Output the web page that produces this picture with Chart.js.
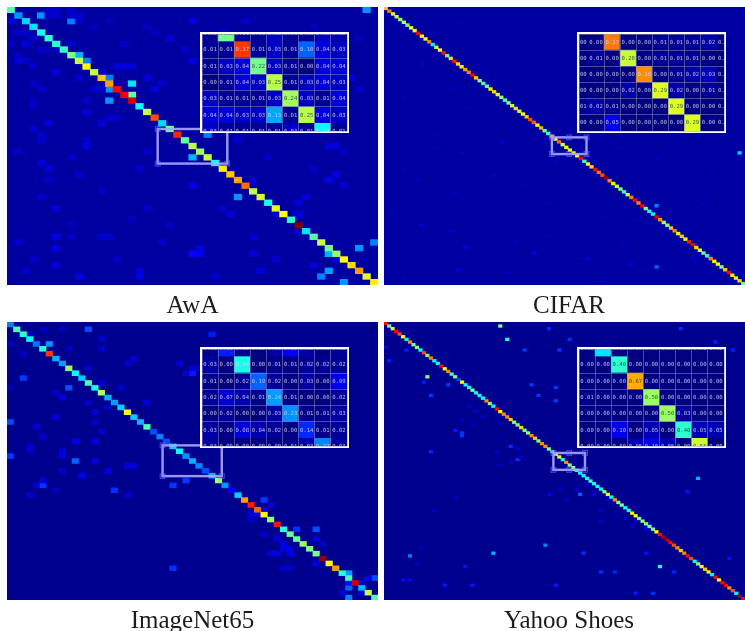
<!DOCTYPE html>
<html><head><meta charset="utf-8">
<script src="https://cdn.jsdelivr.net/npm/chart.js@4"></script>
<style>
html,body{margin:0;padding:0;background:#fff;width:745px;height:631px;overflow:hidden}
canvas{position:absolute;display:block}
canvas.main{filter:blur(.35px)}
canvas.inset{filter:blur(.35px)}
</style></head><body>
<script>
// Diagonal cells, read as position on the colour map (0..1)
const awaDiag=[.45,.27,.33,.35,.4,.42,.42,.43,.5,.57,.63,.57,.68,.72,.87,.89,.92,.38,.57,.8,.34,.48,.84,.47,.55,.53,.57,.38,.64,.68,.71,.77,.56,.58,.4,.6,.62,.42,1,.35,.46,.57,.49,.52,.63,.66,.72,.6,.64];
const cifarDiag=[.68,.75,.58,.56,.5,.56,.5,.62,.6,.87,.64,.6,.75,.36,.55,.63,.85,.46,.65,.85,.66,.64,.72,.76,.88,.68,.5,.44,.46,.64,.67,.6,.52,.44,.5,.57,.66,.58,.62,.68,.8,.78,.63,.7,.48,.42,.7,.62,.77,.58,.6,.62,.6,.6,.87,.42,.63,.67,.87,.76,.8,.97,.74,.63,.56,.5,.43,.58,.75,.87,.75,.88,.5,.4,.38,.9,.73,.53,.5,.68,.74,.6,.68,.64,.85,.88,.66,.6,.48,.43,.74,.63,.6,.52,.68,.87,.65,.58,.67,.5];
const imagenetDiag=[.25,.45,.42,.38,.24,.42,.82,.3,.28,.52,.38,.32,.45,.38,.54,.3,.28,.33,.62,.33,.3,.45,.2,.25,.2,.33,.38,.27,.3,.26,.2,.3,.53,.27,.12,.33,.72,.85,.78,.63,.52,.86,.42,.47,.47,.53,.5,.5,.98,.63,.72,.42,.44,.92,.3,.57,.45];
const yahooDiag=[.87,.5,.56,.87,.8,.63,.38,.74,.5,.5,.38,.8,.5,.74,.38,.38,.87,.63,.74,.43,.5,.2,.63,.38,.38,.5,.38,.38,.38,.74,.5,.38,.87,.63,.74,.74,.68,.5,.5,.66,.5,.5,.74,.68,.5,.74,.74,.5,.38,.63,.6,.38,.74,.5,.5,.38,.38,.38,.38,.43,.38,.38,.38,.5,.63,.38,.74,.5,.5,.38,.38,.63,.63,.5,.5,.5,.5,.5,.63,.87,.95,.95,.87,.8,.74,.68,.74,.87,.8,.38,.5,.63,.68,.63,.38,.87,.63,.87,.87,.74,.8,.38,.97,.87];

// Off-diagonal cells: [row, column, colour-map position]
const awaOff=[[1,4,.27],[2,8,.25],[8,9,.3],[9,10,.25],[12,13,.25],[14,13,.27],[13,16,.35],[15,16,.47],[16,13,.27],[0,47,.27],[22,26,.25],[26,24,.3],[33,30,.27],[43,42,.3],[42,46,.27],[41,48,.25],[46,42,.28],[47,41,.25],[48,44,.27],
[0,5,.075],[0,6,.075],[0,8,.075],[1,5,.07],[1,6,.07],[1,8,.075],[1,9,.075],[2,0,.09],[2,9,.075],[2,24,.09],[2,31,.075],[2,13,.06],[3,11,.06],[3,18,.06],[4,1,.075],[4,2,.075],[4,19,.06],[5,3,.075],[5,21,.09],[6,0,.06],[6,2,.09],[6,8,.075],[7,4,.075],[7,5,.06],[7,6,.06],[7,23,.075],[8,1,.06],[9,1,.09],[9,2,.07],[9,24,.09],[10,3,.075],[10,14,.09],[10,15,.09],[10,16,.09],[11,6,.09],[11,12,.075],[12,9,.075],[12,18,.09],[13,20,.075],[14,4,.075],[14,11,.075],[14,12,.075],[14,19,.09],[16,3,.06],[16,10,.075],[17,3,.075],[17,35,.075],[18,10,.09],[19,13,.075],[19,14,.075],[20,5,.09],[20,12,.09],[21,3,.075],[22,4,.075],[23,4,.075],[23,10,.075],[24,10,.09],[25,18,.075],[26,8,.075],[27,4,.09],[28,5,.09],[28,17,.075],[30,5,.075],[30,32,.075],[31,24,.1],[33,4,.075],[35,6,.09],[35,18,.075],[36,29,.09],[36,38,.09],[38,8,.06],[39,38,.075],[40,6,.1],[40,8,.075],[40,12,.075],[40,13,.075],[40,32,.075],[41,1,.075],[42,6,.1],[42,25,.09],[43,24,.13],[43,25,.11],[43,32,.09],[44,3,.075],[44,35,.075],[45,6,.09],[46,2,.075],[46,17,.09],[47,9,.1],[47,27,.075],[47,17,.1],[45,40,.09],[46,33,.09],[44,43,.09],[29,43,.1],[30,42,.1],[33,39,.09],[34,38,.09],[36,35,.075],[20,41,.075],[24,42,.09],[24,43,.09],[25,44,.075],[12,45,.09],[14,46,.075],[10,39,.06],[8,42,.075],[5,46,.06],[11,28,.06],[15,30,.06],[18,33,.07],[23,30,.07],[26,34,.07],[28,40,.07],[31,44,.08],[35,28,.07],[38,21,.07],[41,20,.07],[44,14,.07],[32,12,.07],[29,9,.07],[37,16,.06],[25,1,.07],[13,3,.07],[6,15,.07],[4,28,.07],[7,35,.07],[3,40,.06]];
const cifarOff=[[52,98,.32],[71,75,.25],[93,75,.22],[5,20,.05],[10,60,.05],[14,30,.05],[20,10,.06],[22,75,.05],[25,60,.06],[29,18,.07],[32,5,.05],[36,23,.06],[40,50,.05],[45,14,.06],[48,32,.08],[50,13,.06],[52,21,.07],[55,47,.06],[58,5,.06],[60,30,.07],[62,9,.06],[64,38,.06],[67,19,.07],[70,45,.06],[73,2,.07],[76,70,.06],[78,10,.09],[80,18,.08],[82,45,.06],[84,36,.07],[86,22,.1],[88,41,.09],[90,56,.09],[92,68,.07],[94,20,.1],[95,33,.07],[97,5,.06],[98,60,.07],[36,80,.05],[42,90,.05],[44,70,.06],[46,85,.05],[50,64,.06],[54,75,.06],[60,90,.05],[66,83,.05],[70,88,.06],[75,60,.06],[80,78,.07],[85,66,.06],[90,85,.07],[95,90,.06],[17,70,.05],[30,93,.05],[12,85,.05]];
const imagenetOff=[[4,6,.27],[1,12,.2],[13,9,.2],[20,0,.2],[11,2,.18],[27,0,.18],[28,10,.22],[33,5,.18],[34,16,.17],[33,25,.18],[32,27,.18],[36,39,.18],[50,25,.17],[10,28,.15],[2,31,.15],[42,47,.2],[42,44,.17],[51,52,.28],[52,56,.2],[54,52,.22],[56,52,.25],
[1,5,.06],[1,8,.06],[2,3,.075],[3,14,.075],[4,0,.06],[5,9,.07],[5,14,.07],[6,2,.06],[7,19,.09],[8,26,.075],[8,18,.07],[9,12,.09],[9,28,.09],[9,29,.075],[10,27,.075],[12,14,.075],[13,0,.06],[13,17,.07],[14,7,.075],[15,8,.1],[16,12,.07],[16,21,.09],[17,15,.07],[18,13,.09],[19,7,.09],[20,13,.075],[21,4,.09],[22,14,.075],[23,5,.09],[24,10,.1],[24,13,.1],[25,3,.075],[26,3,.075],[26,8,.09],[27,8,.09],[28,13,.1],[29,18,.09],[29,19,.09],[30,8,.075],[30,15,.09],[31,11,.1],[32,5,.09],[33,4,.09],[34,7,.06],[35,3,.075],[35,18,.075],[39,37,.09],[39,38,.1],[38,39,.1],[37,40,.09],[40,37,.075],[43,39,.075],[44,41,.09],[44,47,.09],[45,42,.09],[45,48,.075],[46,42,.1],[46,43,.1],[47,41,.1],[47,43,.1],[50,42,.075],[50,43,.075],[49,47,.09],[52,55,.1],[53,52,.14],[55,51,.09],[53,54,.075],[47,40,.09],[55,54,.1]];
const yahooOff=[[1,33,.5],[6,35,.4],[20,12,.5],[91,79,.4],[58,90,.3],[86,31,.3],[87,7,.25],[83,46,.25],[64,56,.22],
[41,22,.18],[42,22,.18],[24,49,.18],[27,44,.18],[29,49,.18],[23,42,.18],[23,18,.18],[27,13,.18],[10,40,.18],[10,50,.18],[6,53,.17],[2,47,.16],[2,85,.16],[7,95,.16],[10,100,.15],[10,6,.15],[14,1,.15],[22,11,.15],[40,20,.15],[51,38,.17],[46,36,.17],[48,13,.16],[86,57,.17],[93,62,.17],[93,66,.16],[101,77,.17],[101,72,.15],[98,49,.15],[98,17,.15],[98,25,.15],[96,5,.13],[96,7,.13],[91,23,.14],[88,99,.14],[93,83,.16],[86,75,.14],[63,87,.14],[9,0,.1],[31,24,.07],[33,26,.075],[35,28,.075],[36,22,.075],[38,25,.07],[48,32,.07],[52,36,.075],[50,39,.07],[47,38,.075],[53,33,.07],[60,58,.1],[62,50,.075],[64,47,.1],[66,52,.075],[62,55,.09],[64,60,.09],[66,64,.075],[70,62,.075],[72,66,.07],[74,72,.07],[72,74,.075],[75,76,.1],[73,69,.07],[76,71,.075],[77,75,.09],[74,62,.075],[65,20,.075],[70,14,.075],[84,10,.075],[90,9,.075]];

// Inset tables: numbers printed in the cells
const awaInset=[[.01,.22,.01,.01,.03,.01,.01,.03,.02],[.01,.01,.37,.01,.03,.01,.10,.04,.03],[.01,.03,.04,.22,.03,.01,.00,.04,.04],[.00,.01,.04,.03,.25,.01,.03,.04,.03],[.03,.01,.01,.01,.03,.24,.03,.01,.04],[.04,.04,.03,.03,.13,.01,.25,.04,.03],[.03,.01,.01,.01,.01,.03,.01,.17,.01]];
const cifarInset=[[0,0,.37,0,0,.01,.01,.01,.02,0],[0,.01,0,.28,0,.01,.01,.01,0,0],[0,0,0,0,.36,0,.01,.02,.03,0],[0,0,0,.02,0,.29,.02,0,.01,0],[.01,.02,.01,0,0,0,.29,0,0,0],[0,0,.05,0,0,0,0,.29,0,0]];
const imagenetInset=[[.01,.13,.02,0,.03,.10,.03,0,.02],[.03,0,.34,0,.01,.01,.02,.02,.02],[.01,0,.02,.19,.02,0,.03,0,.09],[.02,.07,.04,.01,.24,.01,0,0,.02],[0,.02,0,0,.03,.23,.01,.01,.03],[.03,0,.08,.04,.02,0,.14,.01,.02],[.03,0,0,0,0,.01,.03,.22,.03]];
const yahooInset=[[0,.33,0,0,0,0,0,0,0],[0,0,.40,0,0,0,0,0,0],[0,0,0,.67,0,0,0,0,0],[.01,0,0,0,.50,0,0,0,0],[0,0,0,0,0,.50,.03,0,0],[0,0,.10,0,.05,0,.40,.05,.05],[0,0,0,.05,.10,.05,0,.55,0]];

const panelNames=['AwA','CIFAR','ImageNet65','Yahoo Shoes'];

function jet(t){t=Math.max(0,Math.min(1,t));
 const f=x=>Math.round(255*Math.max(0,Math.min(1,1.5-Math.abs(4*t-x))));
 return `rgb(${f(3)},${f(2)},${f(1)})`;}
function cells(diag,off){
 const out=off.map(([r,c,v])=>({x:[c,c+1],y:r+.5,v}));
 diag.forEach((v,i)=>out.push({x:[i,i+1],y:i+.5,v}));
 return out;}
function tableCells(t,vmax){
 const out=[];
 t.forEach((row,r)=>row.forEach((n,c)=>out.push({x:[c,c+1],y:r+.5,v:n/vmax,n})));
 return out;}

const backdrop={id:'backdrop',beforeDraw(ch,a,o){const {left,top,width,height}=ch.chartArea;
 ch.ctx.save();
 if(o.page){ch.ctx.fillStyle=o.page;ch.ctx.fillRect(0,0,ch.width,ch.height);}
 ch.ctx.fillStyle=o.color;ch.ctx.fillRect(left,top,width,height);ch.ctx.restore();}};
const selection={id:'selection',afterDatasetsDraw(ch,a,o){ if(!o.box) return;
 const X=ch.scales.x,Y=ch.scales.y,[a0,a1,b0,b1]=o.box;
 const x0=X.getPixelForValue(a0),x1=X.getPixelForValue(a1),y0=Y.getPixelForValue(b0),y1=Y.getPixelForValue(b1);
 const g=ch.ctx;g.save();g.strokeStyle='rgba(170,170,255,.9)';g.lineWidth=2.4;g.strokeRect(x0,y0,x1-x0,y1-y0);
 g.lineWidth=.8;g.fillStyle='rgba(120,120,255,.22)';g.strokeStyle='rgba(120,120,255,.6)';
 [[x0,y0],[x1,y0],[x0,y1],[x1,y1]].concat(o.mid?[[(x0+x1)/2,y0],[(x0+x1)/2,y1]]:[]).forEach(([x,y])=>{g.fillRect(x-2.5,y-2.5,5,5);g.strokeRect(x-2.5,y-2.5,5,5);});
 g.restore();}};
const numbers={id:'numbers',afterDatasetsDraw(ch){
 const X=ch.scales.x,Y=ch.scales.y,g=ch.ctx,A=ch.chartArea;
 g.save();g.beginPath();g.rect(A.left,A.top,A.width,A.height);g.clip();
 g.font='5.6px "DejaVu Sans Mono"';g.textAlign='center';g.textBaseline='middle';
 ch.data.datasets[0].data.forEach(d=>{
  g.fillStyle=(d.v>.42&&d.v<.72)?'rgba(30,60,60,.9)':'rgba(205,205,240,.9)';
  g.fillText(d.n.toFixed(2),X.getPixelForValue(d.x[0]+.5),Y.getPixelForValue(d.y));});
 g.restore();}};

function barOpts(xr,yr,extra){return Object.assign({
 indexAxis:'y',responsive:false,animation:false,events:[],
 scales:{x:{type:'linear',min:xr[0],max:xr[1],display:false},
         y:{type:'linear',min:yr[0],max:yr[1],reverse:true,offset:false,display:false,grid:{offset:false}}}
},extra);}
function canvas(cls,l,t,w,h){const c=document.createElement('canvas');c.className=cls;c.width=w;c.height=h;
 c.style.left=l+'px';c.style.top=t+'px';c.style.width=w+'px';c.style.height=h+'px';document.body.appendChild(c);return c;}

function mainChart(name,diag,off,l,t,w,areaW,bg,box,mid){
 const N=diag.length;
 new Chart(canvas('main',l,t,w,314),{type:'bar',
  data:{datasets:[{data:cells(diag,off),backgroundColor:c=>jet(c.raw.v),barPercentage:1,categoryPercentage:1,borderWidth:0}]},
  options:barOpts([0,N*w/areaW],[0,N],{plugins:{legend:{display:false},tooltip:{enabled:false},
    title:{display:true,text:name,position:'bottom',color:'#1c1c1c',font:{family:'"Liberation Serif"',size:25,weight:'normal'},padding:{top:6,bottom:0}},
    backdrop:{color:bg},selection:{box,mid}}}),
  plugins:[backdrop,selection]});
}
function insetChart(table,vmax,l,t,xr,yr){
 const grid={display:true,drawTicks:false,color:'rgba(150,150,190,.5)',lineWidth:1,z:1,offset:false};
 const tick={display:false,stepSize:1};
 const o=barOpts(xr,yr,{layout:{padding:2},plugins:{legend:{display:false},tooltip:{enabled:false},title:{display:false},backdrop:{color:'#000090',page:'#ffffff'}}});
 o.scales.x=Object.assign(o.scales.x,{display:true,grid,ticks:tick,border:{display:false}});
 o.scales.y=Object.assign(o.scales.y,{display:true,grid,ticks:tick,border:{display:false}});
 new Chart(canvas('inset',l,t,149,101),{type:'bar',
  data:{datasets:[{data:tableCells(table,vmax),backgroundColor:c=>jet(c.raw.v),barPercentage:1,categoryPercentage:1,borderWidth:0}]},
  options:o,plugins:[backdrop,numbers]});
}

mainChart(panelNames[0],awaDiag,awaOff,7,7,371,371,'#0000a0',[19.9,29.1,21.5,27.6],false);
mainChart(panelNames[1],cifarDiag,cifarOff,384,7,370,361,'#0000a2',[46.5,56.1,46.9,52.9],true);
mainChart(panelNames[2],imagenetDiag,imagenetOff,7,322,371,371,'#00008e',[23.9,33,25.3,31.6],false);
mainChart(panelNames[3],yahooDiag,yahooOff,384,322,370,361,'#00008e',[48.8,57.9,49,55.3],true);

insetChart(awaInset,.45,200,32,[0,9],[.53,6.47]);
insetChart(cifarInset,.49,577,32,[.44,9.46],[0,6]);
insetChart(imagenetInset,.86,200,347,[0,9],[.53,6.47]);
insetChart(yahooInset,.95,577,347,[0,9],[.53,6.47]);
</script>
</body></html>
